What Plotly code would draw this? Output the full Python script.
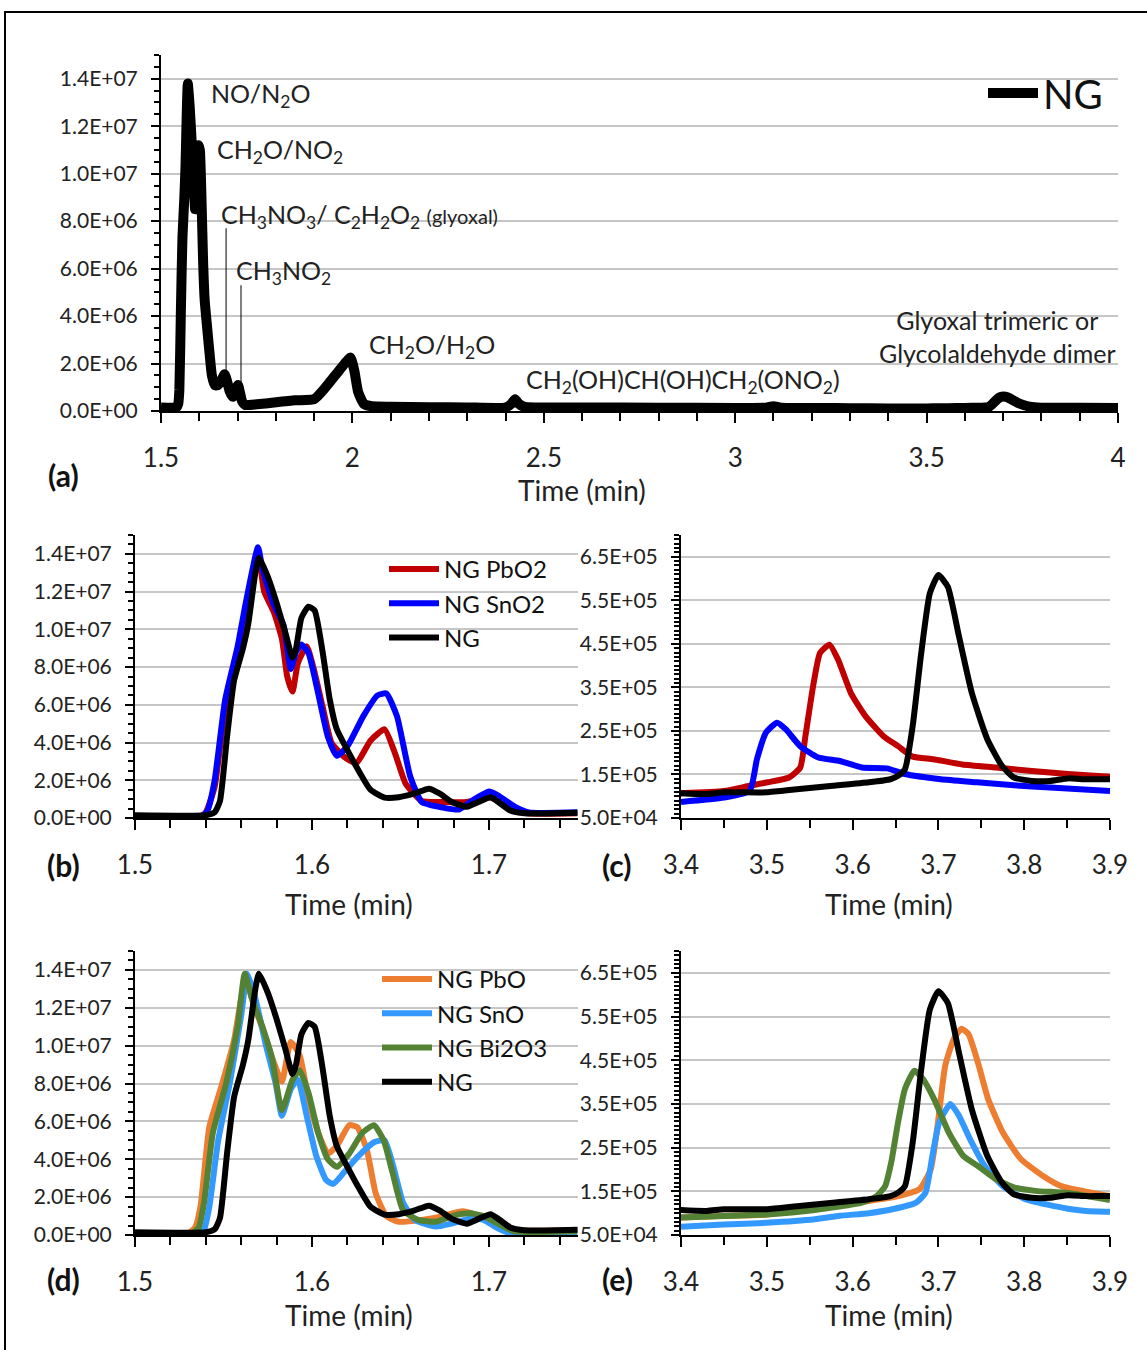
import plotly.graph_objects as go

# ---------------- data ----------------
# NG, full run (panel a; also the black trace in b-e)
ng_t = [1.50, 1.54, 1.545, 1.548, 1.552, 1.556, 1.561, 1.564, 1.568, 1.570, 1.575, 1.580,
        1.585, 1.589, 1.591, 1.594, 1.598, 1.6015, 1.606, 1.610, 1.614, 1.620, 1.627, 1.633,
        1.641, 1.649, 1.658, 1.666, 1.672, 1.679, 1.6875, 1.694, 1.701, 1.706, 1.712, 1.720,
        1.75, 1.78, 1.85, 1.90, 1.93, 1.96, 1.98, 1.995, 2.005, 2.015, 2.03, 2.05, 2.10,
        2.20, 2.30, 2.40, 2.415, 2.425, 2.435, 2.45, 2.60, 2.80, 3.00, 3.08, 3.10, 3.12,
        3.30, 3.40, 3.43, 3.45, 3.50, 3.535, 3.577, 3.619, 3.644, 3.653, 3.661, 3.670,
        3.680, 3.690, 3.700, 3.711, 3.724, 3.739, 3.757, 3.774, 3.788, 3.809, 3.830, 3.851,
        3.872, 3.90, 4.00]
ng_v = [1.5e5, 1.5e5, 3.0e5, 9.0e5, 4.3e6, 7.3e6, 9.0e6, 1.03e7, 1.30e7, 1.38e7, 1.28e7, 1.14e7,
        9.8e6, 8.5e6, 9.0e6, 1.06e7, 1.12e7, 1.10e7, 8.8e6, 6.3e6, 4.7e6, 3.6e6, 2.4e6, 1.5e6,
        1.08e6, 1.1e6, 1.3e6, 1.55e6, 1.3e6, 8.5e5, 6.0e5, 8.5e5, 1.1e6, 8.0e5, 4.0e5, 2.5e5,
        2.8e5, 3.3e5, 4.5e5, 5.0e5, 1.0e6, 1.6e6, 2.0e6, 2.25e6, 1.7e6, 8.0e5, 3.0e5, 2.0e5, 1.8e5,
        1.6e5, 1.5e5, 1.5e5, 3.0e5, 5.0e5, 3.0e5, 1.7e5, 1.5e5, 1.4e5, 1.3e5, 1.4e5, 2.0e5, 1.4e5,
        1.2e5, 1.07e5, 1.05e5, 1.09e5, 1.09e5, 1.16e5, 1.24e5, 1.32e5, 1.39e5, 1.47e5, 1.62e5, 2.61e5,
        4.29e5, 5.66e5, 6.08e5, 5.81e5, 4.67e5, 3.37e5, 2.31e5, 1.70e5, 1.43e5, 1.35e5, 1.35e5, 1.41e5,
        1.39e5, 1.39e5, 1.30e5]

# NG PbO2 (panels b, c)
pbo2_early_t = [1.50, 1.537, 1.540, 1.545, 1.551, 1.558, 1.563, 1.568, 1.570, 1.573, 1.5785, 1.583,
                1.586, 1.589, 1.592, 1.597, 1.601, 1.606, 1.611, 1.618, 1.625, 1.633, 1.641, 1.647,
                1.653, 1.662, 1.674, 1.6875, 1.700, 1.708, 1.720, 1.75]
pbo2_early_v = [1.0e5, 1.0e5, 3.0e5, 1.65e6, 5.9e6, 8.8e6, 1.11e7, 1.35e7, 1.37e7, 1.20e7, 1.09e7, 9.5e6,
                7.5e6, 6.7e6, 8.2e6, 9.1e6, 7.9e6, 5.9e6, 4.0e6, 3.25e6, 2.9e6, 4.1e6, 4.7e6, 3.4e6,
                1.8e6, 9.0e5, 8.5e5, 8.5e5, 1.1e6, 8.0e5, 2.7e5, 2.5e5]
pbo2_late_t = [3.40, 3.45, 3.48, 3.501, 3.526, 3.539, 3.545, 3.554, 3.562, 3.573, 3.583, 3.598,
               3.615, 3.636, 3.653, 3.670, 3.694, 3.728, 3.767, 3.809, 3.851, 3.90]
pbo2_late_v = [1.07e5, 1.12e5, 1.24e5, 1.32e5, 1.43e5, 1.66e5, 2.38e5, 3.53e5, 4.29e5, 4.48e5, 4.14e5, 3.37e5,
               2.84e5, 2.38e5, 2.15e5, 1.91e5, 1.85e5, 1.73e5, 1.66e5, 1.58e5, 1.51e5, 1.45e5]

# NG SnO2 (panels b, c)
sno2_early_t = [1.50, 1.538, 1.541, 1.545, 1.551, 1.558, 1.563, 1.5695, 1.572, 1.578, 1.584, 1.588,
                1.591, 1.594, 1.598, 1.6035, 1.609, 1.614, 1.620, 1.629, 1.637, 1.642, 1.648, 1.6555,
                1.662, 1.674, 1.683, 1.691, 1.700, 1.705, 1.7145, 1.7225, 1.75]
sno2_early_v = [1.0e5, 1.0e5, 4.0e5, 2.0e6, 6.3e6, 9.1e6, 1.16e7, 1.435e7, 1.32e7, 1.14e7, 1.02e7, 7.9e6,
                8.8e6, 9.2e6, 8.75e6, 6.6e6, 4.3e6, 3.3e6, 3.8e6, 5.4e6, 6.5e6, 6.6e6, 5.4e6, 2.2e6,
                8.5e5, 5.5e5, 4.5e5, 9.5e5, 1.4e6, 1.2e6, 6.0e5, 3.0e5, 3.0e5]
sno2_late_t = [3.40, 3.45, 3.48, 3.4885, 3.499, 3.512, 3.522, 3.539, 3.560, 3.585, 3.611, 3.640,
               3.661, 3.703, 3.745, 3.788, 3.830, 3.90]
sno2_late_v = [8.7e4, 9.7e4, 1.12e5, 1.85e5, 2.46e5, 2.69e5, 2.54e5, 2.15e5, 1.89e5, 1.81e5, 1.66e5, 1.64e5,
               1.51e5, 1.39e5, 1.32e5, 1.25e5, 1.20e5, 1.12e5]

# NG PbO (panels d, e)
pbo_early_t = [1.50, 1.530, 1.534, 1.537, 1.542, 1.549, 1.556, 1.560, 1.563, 1.566, 1.572, 1.5785,
               1.583, 1.588, 1.593, 1.598, 1.6035, 1.609, 1.614, 1.621, 1.6255, 1.631, 1.636, 1.642,
               1.649, 1.662, 1.674, 1.685, 1.693, 1.7015, 1.712, 1.75]
pbo_early_v = [1.0e5, 1.0e5, 4.0e5, 1.5e6, 5.7e6, 7.9e6, 1.03e7, 1.25e7, 1.37e7, 1.25e7, 1.09e7, 9.1e6,
               8.1e6, 1.02e7, 9.5e6, 7.2e6, 5.4e6, 4.3e6, 4.7e6, 5.8e6, 5.7e6, 4.5e6, 2.2e6, 1.0e6,
               7.0e5, 8.0e5, 1.0e6, 1.25e6, 1.05e6, 7.0e5, 2.7e5, 2.7e5]
pbo_late_t = [3.40, 3.45, 3.50, 3.556, 3.619, 3.653, 3.678, 3.691, 3.699, 3.708, 3.718, 3.727,
              3.735, 3.746, 3.758, 3.775, 3.796, 3.822, 3.843, 3.872, 3.90]
pbo_late_v = [9.0e4, 9.4e4, 9.7e4, 1.13e5, 1.28e5, 1.39e5, 1.55e5, 2.0e5, 3.0e5, 4.38e5, 4.99e5, 5.22e5,
              5.10e5, 4.45e5, 3.61e5, 2.85e5, 2.24e5, 1.85e5, 1.62e5, 1.49e5, 1.39e5]

# NG SnO (panels d, e)
sno_early_t = [1.50, 1.535, 1.539, 1.542, 1.547, 1.5535, 1.560, 1.5635, 1.568, 1.574, 1.5795, 1.583,
               1.588, 1.592, 1.597, 1.6025, 1.608, 1.612, 1.618, 1.626, 1.635, 1.641, 1.646, 1.6515,
               1.658, 1.670, 1.6785, 1.691, 1.697, 1.705, 1.712, 1.75]
sno_early_v = [5.0e4, 5.0e4, 3.0e5, 1.5e6, 5.0e6, 8.0e6, 1.16e7, 1.38e7, 1.25e7, 1.0e7, 8.0e6, 6.3e6,
               7.7e6, 8.2e6, 6.3e6, 4.15e6, 2.9e6, 2.7e6, 3.3e6, 4.15e6, 4.9e6, 5.0e6, 3.6e6, 1.7e6,
               8.0e5, 4.5e5, 6.0e5, 9.0e5, 8.0e5, 3.5e5, 1.0e5, 1.0e5]
sno_late_t = [3.40, 3.45, 3.50, 3.556, 3.585, 3.619, 3.649, 3.674, 3.685, 3.693, 3.701, 3.714,
              3.724, 3.737, 3.754, 3.775, 3.800, 3.826, 3.851, 3.872, 3.90]
sno_late_v = [6.9e4, 7.4e4, 7.8e4, 8.6e4, 9.4e4, 1.0e5, 1.1e5, 1.24e5, 1.47e5, 2.31e5, 3.08e5, 3.50e5,
              3.23e5, 2.69e5, 2.08e5, 1.62e5, 1.33e5, 1.20e5, 1.10e5, 1.05e5, 1.03e5]

# NG Bi2O3 (panels d, e)
bi_early_t = [1.50, 1.532, 1.536, 1.539, 1.544, 1.5515, 1.558, 1.562, 1.566, 1.572, 1.5775, 1.583,
              1.589, 1.593, 1.598, 1.6035, 1.609, 1.614, 1.621, 1.6285, 1.635, 1.6405, 1.6455, 1.6515,
              1.660, 1.670, 1.681, 1.689, 1.697, 1.706, 1.714, 1.75]
bi_early_v = [8.0e4, 8.0e4, 4.0e5, 1.7e6, 5.4e6, 8.0e6, 1.10e7, 1.38e7, 1.25e7, 1.10e7, 9.3e6, 6.6e6,
              8.2e6, 8.7e6, 7.5e6, 5.4e6, 4.0e6, 3.6e6, 4.3e6, 5.4e6, 5.8e6, 5.0e6, 3.3e6, 1.3e6,
              8.0e5, 7.0e5, 1.05e6, 1.15e6, 1.0e6, 5.5e5, 2.0e5, 2.0e5]
bi_late_t = [3.40, 3.50, 3.556, 3.611, 3.628, 3.638, 3.645, 3.653, 3.661, 3.672, 3.682, 3.695,
             3.712, 3.729, 3.746, 3.767, 3.788, 3.813, 3.851, 3.90]
bi_late_v = [9.0e4, 9.7e4, 1.07e5, 1.24e5, 1.39e5, 1.62e5, 2.16e5, 3.08e5, 3.84e5, 4.26e5, 4.07e5, 3.61e5,
             2.85e5, 2.31e5, 2.08e5, 1.78e5, 1.59e5, 1.51e5, 1.46e5, 1.30e5]

# tick values / labels
y_big_vals = [0, 2e6, 4e6, 6e6, 8e6, 1e7, 1.2e7, 1.4e7]
y_big_text = ["0.0E+00", "2.0E+06", "4.0E+06", "6.0E+06", "8.0E+06", "1.0E+07", "1.2E+07", "1.4E+07"]
y_small_vals = [5e4, 1.5e5, 2.5e5, 3.5e5, 4.5e5, 5.5e5, 6.5e5]
y_small_text = ["5.0E+04", "1.5E+05", "2.5E+05", "3.5E+05", "4.5E+05", "5.5E+05", "6.5E+05"]
x_a_vals = [1.5, 2, 2.5, 3, 3.5, 4]
x_a_text = ["1.5", "2", "2.5", "3", "3.5", "4"]
x_bd_vals = [1.5, 1.6, 1.7]
x_bd_text = ["1.5", "1.6", "1.7"]
x_ce_vals = [3.4, 3.5, 3.6, 3.7, 3.8, 3.9]
x_ce_text = ["3.4", "3.5", "3.6", "3.7", "3.8", "3.9"]

# ---------------- styling ----------------
FONT = "Lato, 'Open Sans', sans-serif"
C_RED, C_BLUE, C_BLACK = "#C00000", "#0000FF", "#000000"
C_ORANGE, C_LBLUE, C_GREEN = "#ED7D31", "#3399FF", "#548235"
GRID = "#C6C6C6"
W = 1147
H = 1350


def px_x(p):
    return p / W


def px_y(p):
    return 1 - p / H


fig = go.Figure()


def line(x, y, color, width, name, xa, ya, legend=None, show=False):
    fig.add_trace(go.Scatter(
        x=x, y=y, mode="lines", name=name,
        line=dict(color=color, width=width, shape="spline", smoothing=0.5),
        xaxis=xa, yaxis=ya, showlegend=show, legend=legend,
        hoverinfo="skip"))


# panel (a)
line(ng_t, ng_v, C_BLACK, 10, "NG", "x", "y", legend="legend", show=True)
# panel (b)
line(pbo2_early_t, pbo2_early_v, C_RED, 6, "NG PbO2", "x2", "y2", legend="legend2", show=True)
line(sno2_early_t, sno2_early_v, C_BLUE, 6, "NG SnO2", "x2", "y2", legend="legend2", show=True)
line(ng_t, ng_v, C_BLACK, 6, "NG", "x2", "y2", legend="legend2", show=True)
# panel (c)
line(pbo2_late_t, pbo2_late_v, C_RED, 6, "NG PbO2", "x3", "y3")
line(sno2_late_t, sno2_late_v, C_BLUE, 6, "NG SnO2", "x3", "y3")
line(ng_t, ng_v, C_BLACK, 6, "NG", "x3", "y3")
# panel (d)
line(pbo_early_t, pbo_early_v, C_ORANGE, 6, "NG PbO", "x4", "y4", legend="legend3", show=True)
line(sno_early_t, sno_early_v, C_LBLUE, 6, "NG SnO", "x4", "y4", legend="legend3", show=True)
line(bi_early_t, bi_early_v, C_GREEN, 6, "NG Bi2O3", "x4", "y4", legend="legend3", show=True)
line(ng_t, ng_v, C_BLACK, 6, "NG", "x4", "y4", legend="legend3", show=True)
# panel (e)
line(pbo_late_t, pbo_late_v, C_ORANGE, 6, "NG PbO", "x5", "y5")
line(sno_late_t, sno_late_v, C_LBLUE, 6, "NG SnO", "x5", "y5")
line(bi_late_t, bi_late_v, C_GREEN, 6, "NG Bi2O3", "x5", "y5")
line(ng_t, ng_v, C_BLACK, 6, "NG", "x5", "y5")


def xaxis(dom, anchor, rng, vals, text, minor_dtick):
    return dict(domain=dom, anchor=anchor, range=rng, tickmode="array", tickvals=vals, ticktext=text,
                showgrid=False, zeroline=False, showline=True, linecolor="black", linewidth=2,
                ticks="outside", ticklen=10, tickwidth=2, tickcolor="black",
                ticklabelstandoff=13, automargin=False,
                tickfont=dict(family=FONT, size=26, color="#222"),
                minor=dict(ticks="outside", ticklen=8, tickwidth=2, tickcolor="black",
                           tick0=rng[0], dtick=minor_dtick, showgrid=False))


def yaxis(dom, anchor, rng, vals, text, minor_dtick, tick0):
    return dict(domain=dom, anchor=anchor, range=rng, tickmode="array", tickvals=vals, ticktext=text,
                showgrid=True, gridcolor=GRID, gridwidth=2, zeroline=False,
                showline=True, linecolor="black", linewidth=2,
                ticks="outside", ticklen=8, tickwidth=2, tickcolor="black",
                ticklabelstandoff=9, automargin=False,
                tickfont=dict(family=FONT, size=21, color="#222"),
                minor=dict(ticks="outside", ticklen=5, tickwidth=2, tickcolor="black",
                           tick0=tick0, dtick=minor_dtick, showgrid=False))


xa_dom = [px_x(161), px_x(1118)]
xl_dom = [px_x(135), px_x(577.5)]
xr_dom = [px_x(681), px_x(1110)]
ya_dom = [px_y(411), px_y(55)]
ybc_dom = [px_y(818), px_y(535)]
yde_dom = [px_y(1235), px_y(951)]

leg_font = dict(family=FONT, size=24, color="#111")

fig.update_layout(
    width=W, height=H, margin=dict(l=0, r=0, t=0, b=0, autoexpand=False),
    paper_bgcolor="white", plot_bgcolor="white",
    font=dict(family=FONT, color="#222"),
    xaxis=xaxis(xa_dom, "y", [1.5, 4.0], x_a_vals, x_a_text, 0.1),
    yaxis=yaxis(ya_dom, "x", [0, 1.5e7], y_big_vals, y_big_text, 5e5, 0),
    xaxis2=xaxis(xl_dom, "y2", [1.5, 1.75], x_bd_vals, x_bd_text, 0.02),
    yaxis2=yaxis(ybc_dom, "x2", [0, 1.5e7], y_big_vals, y_big_text, 5e5, 0),
    xaxis3=xaxis(xr_dom, "y3", [3.4, 3.9], x_ce_vals, x_ce_text, 0.05),
    yaxis3=yaxis(ybc_dom, "x3", [5e4, 7e5], y_small_vals, y_small_text, 1e4, 5e4),
    xaxis4=xaxis(xl_dom, "y4", [1.5, 1.75], x_bd_vals, x_bd_text, 0.02),
    yaxis4=yaxis(yde_dom, "x4", [0, 1.5e7], y_big_vals, y_big_text, 5e5, 0),
    xaxis5=xaxis(xr_dom, "y5", [3.4, 3.9], x_ce_vals, x_ce_text, 0.05),
    yaxis5=yaxis(yde_dom, "x5", [5e4, 7e5], y_small_vals, y_small_text, 1e4, 5e4),
    legend=dict(x=px_x(983), y=px_y(93), xanchor="left", yanchor="middle",
                bgcolor="rgba(0,0,0,0)", font=dict(family=FONT, size=40, color="#111"),
                itemwidth=50, tracegroupgap=0),
    legend2=dict(x=px_x(384), y=px_y(547), xanchor="left", yanchor="top",
                 bgcolor="rgba(0,0,0,0)", font=leg_font, itemwidth=50, tracegroupgap=0),
    legend3=dict(x=px_x(377), y=px_y(957), xanchor="left", yanchor="top",
                 bgcolor="rgba(0,0,0,0)", font=leg_font, itemwidth=50, tracegroupgap=0),
)

ann = []
# axis titles
for cx, cy in [(582, 490), (349, 904), (889, 904), (349, 1315), (889, 1315)]:
    ann.append(dict(text="Time (min)", x=px_x(cx), y=px_y(cy), xref="paper", yref="paper",
                    showarrow=False, xanchor="center", yanchor="middle",
                    font=dict(family=FONT, size=28, color="#222")))
# panel labels
for lab, cx, cy in [("(a)", 63, 475), ("(b)", 63, 865), ("(c)", 617, 865), ("(d)", 63, 1279), ("(e)", 617, 1279)]:
    ann.append(dict(text="<b>" + lab + "</b>", x=px_x(cx), y=px_y(cy), xref="paper", yref="paper",
                    showarrow=False, xanchor="center", yanchor="middle",
                    font=dict(family=FONT, size=30, color="#111")))
# peak labels in panel (a)
afont = dict(family=FONT, size=25, color="#222")
peak_labels = [
    ("NO/N<sub>2</sub>O", 1.626, 1.332e7, "left"),
    ("CH<sub>2</sub>O/NO<sub>2</sub>", 1.642, 1.096e7, "left"),
    ("CH<sub>3</sub>NO<sub>3</sub>/ C<sub>2</sub>H<sub>2</sub>O<sub>2</sub> <span style='font-size:20px'>(glyoxal)</span>",
     1.6505, 8.22e6, "left"),
    ("CH<sub>3</sub>NO<sub>2</sub>", 1.6900, 5.86e6, "left"),
    ("CH<sub>2</sub>O/H<sub>2</sub>O", 2.038, 2.74e6, "left"),
    ("CH<sub>2</sub>(OH)CH(OH)CH<sub>2</sub>(ONO<sub>2</sub>)", 2.448, 1.26e6, "left"),
    ("Glyoxal trimeric or<br>Glycolaldehyde dimer", 3.686, 3.12e6, "center"),
]
for txt, xv, yv, anc in peak_labels:
    ann.append(dict(text=txt, x=xv, y=yv, xref="x", yref="y", showarrow=False,
                    xanchor=anc, yanchor="middle", align="center", font=afont))
fig.update_layout(annotations=ann)

# leader lines in panel (a)
fig.add_shape(type="line", xref="x", yref="y", x0=1.670, x1=1.670, y0=7.7e6, y1=1.6e6,
              line=dict(color="black", width=1))
fig.add_shape(type="line", xref="x", yref="y", x0=1.709, x1=1.709, y0=5.3e6, y1=1.1e6,
              line=dict(color="black", width=1))
# figure frame
fig.add_shape(type="rect", xref="paper", yref="paper", x0=px_x(5), x1=1.02, y0=px_y(12), y1=-0.02,
              line=dict(color="black", width=2), layer="above")

fig.write_html("out.html")
